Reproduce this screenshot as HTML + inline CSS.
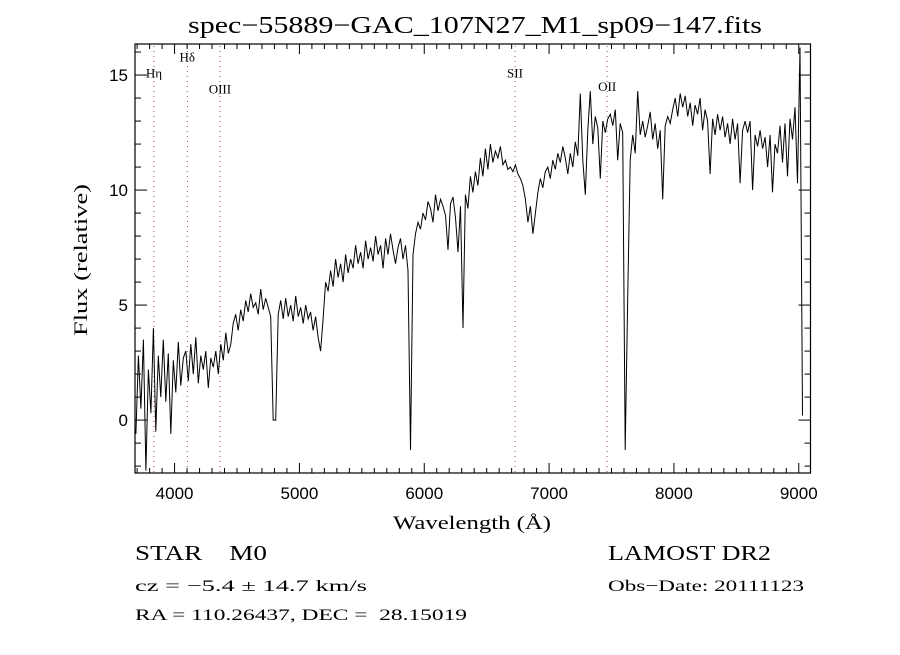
<!DOCTYPE html>
<html><head><meta charset="utf-8"><style>
html,body{margin:0;padding:0;background:#fff;}
svg text{font-family:"Liberation Serif",serif;fill:#000;}
</style></head><body>
<svg id="chart" width="900" height="650" xmlns="http://www.w3.org/2000/svg">
<rect x="0" y="0" width="900" height="650" fill="#fff"/>
<text x="475" y="33" font-size="24" text-anchor="middle" textLength="574" lengthAdjust="spacingAndGlyphs">spec−55889−GAC_107N27_M1_sp09−147.fits</text>
<g id="lines"></g>
<g id="ticks"></g>
<g id="series"></g>
<rect x="135" y="44" width="675.5" height="429" fill="none" stroke="#000" stroke-width="1.2"/>
<text x="472" y="529" font-size="19" text-anchor="middle" textLength="158" lengthAdjust="spacingAndGlyphs">Wavelength (Å)</text>
<text x="0" y="0" font-size="19" text-anchor="middle" transform="translate(87,260) rotate(-90)" textLength="152" lengthAdjust="spacingAndGlyphs">Flux (relative)</text>
<text x="135" y="560" font-size="21" textLength="132" lengthAdjust="spacingAndGlyphs">STAR&#160;&#160;&#160;&#160;M0</text>
<text x="608" y="560" font-size="21" textLength="163" lengthAdjust="spacingAndGlyphs">LAMOST DR2</text>
<text x="135" y="591" font-size="16" textLength="232" lengthAdjust="spacingAndGlyphs">cz = −5.4 ± 14.7 km/s</text>
<text x="608" y="591" font-size="16" textLength="196" lengthAdjust="spacingAndGlyphs">Obs−Date: 20111123</text>
<text x="135" y="620" font-size="16" textLength="332" lengthAdjust="spacingAndGlyphs">RA = 110.26437, DEC =&#160;&#160;28.15019</text>
</svg>
<script>
const W0 = 3690;
const DW = 20;
const flux = [
-0.6,2.8,0.5,3.5,-2.2, 2.2,0.3,4.0,-0.5,2.8, 1.0,3.5,0.8,2.9,-0.6,
2.6,1.2,3.4,1.5,2.7, 3.0,1.7,3.3,2.0,3.6, 1.6,2.8,2.2,3.0,1.4,
2.7,2.3,3.0,2.0,3.3, 2.6,3.8,2.9,3.3,4.2, 4.6,3.9,4.8,4.3,5.2,
4.7,5.5,4.9,5.1,4.6, 5.7,4.8,5.3,4.9,4.5, 0.0,0.0,4.6,5.2,4.4,
5.3,4.5,5.0,4.3,5.4, 4.5,4.9,4.2,5.0,4.4, 4.7,3.9,4.5,3.6,3.0,
4.4,6.0,5.6,6.5,5.8, 7.0,6.2,6.8,6.0,7.2, 6.4,7.0,6.6,7.6,6.8,
7.3,6.6,7.8,7.0,7.5, 6.9,8.0,7.2,7.6,6.6, 7.9,7.2,8.1,7.4,6.8,
7.5,7.9,7.0,7.6,6.5, -1.3,7.2,8.1,8.6,8.3, 9.0,8.7,9.5,9.2,8.6,
9.8,9.1,9.6,9.3,8.9, 7.4,9.4,9.7,8.8,7.3, 9.3,4.0,9.8,9.2,10.6,
9.9,10.8,10.2,11.4,10.6, 11.8,10.9,12.0,11.2,11.7, 11.4,11.9,11.1,11.3,10.9,
11.0,10.8,11.1,10.7,10.5, 10.2,9.6,8.6,9.3,8.1, 9.0,9.9,10.5,10.1,10.8,
11.0,10.5,11.3,10.9,11.6, 11.2,11.9,11.4,10.7,11.6, 11.0,12.1,11.5,14.2,11.3,
9.8,12.6,14.3,12.0,13.2, 12.7,10.5,13.0,12.5,13.1, 13.3,12.8,13.5,11.3,12.9,
12.5,-1.3,5.3,11.3,12.4, 11.6,14.3,12.4,13.0,12.3, 12.8,13.4,12.2,12.9,11.8,
12.6,9.6,12.8,13.2,12.9, 13.5,14.0,13.2,14.2,13.6, 14.1,13.2,13.8,12.8,13.7,
13.3,14.0,12.6,13.5,13.0, 10.7,13.1,12.4,13.3,12.6, 13.2,12.3,12.9,12.0,13.1,
12.2,12.9,10.3,12.6,13.0, 12.5,13.0,10.0,12.4,11.9, 12.6,11.8,12.3,11.0,12.4,
9.9,12.0,11.6,12.8,11.2, 12.9,10.6,13.1,12.2,13.6, 10.3,16.2,0.2
];
const lineNames = ["Hη","Hδ","OIII","SII","OII"];
const lineWaves = [3835,4102,4363,6727,7465];
const lineLabelFlux = [14.9,15.6,14.2,14.9,14.3];
const xTickLabels = [4000,5000,6000,7000,8000,9000];
const yTickLabels = [0,5,10,15];

const XMIN=3683, XMAX=9094, YMIN=-2.3, YMAX=16.35;
const L=135, R=810.5, T=44, B=473;
const sx = w => L + (w-XMIN)/(XMAX-XMIN)*(R-L);
const sy = f => B - (f-YMIN)/(YMAX-YMIN)*(B-T);
const NS="http://www.w3.org/2000/svg";
function mk(tag, attrs, parent){const e=document.createElementNS(NS,tag);for(const k in attrs)e.setAttribute(k,attrs[k]);parent.appendChild(e);return e;}

const lg=document.getElementById('lines');
lineWaves.forEach((w,i)=>{
  const l=mk('line',{x1:sx(w),x2:sx(w),y1:T+2,y2:B,stroke:'#a0503c','stroke-width':1,'stroke-dasharray':'1,4'},lg);
  
  
  const t=mk('text',{x:sx(w),y:sy(lineLabelFlux[i]),'font-size':13,'text-anchor':'middle'},lg);
  t.textContent=lineNames[i];
  
  
});

const tg=document.getElementById('ticks');
for(let w=3700;w<=XMAX;w+=100){
  const major=(w%1000===0), len=major?10:5;
  mk('line',{x1:sx(w),x2:sx(w),y1:B,y2:B-len,stroke:'#000','stroke-width':1},tg);
  mk('line',{x1:sx(w),x2:sx(w),y1:T,y2:T+len,stroke:'#000','stroke-width':1},tg);
}
xTickLabels.forEach(v=>{
  const t=mk('text',{x:sx(v),y:B+26,'font-size':17,'text-anchor':'middle',style:'font-family:"Liberation Sans",sans-serif'},tg);
  t.textContent=v;
  
  
});
for(let f=-2;f<=16;f+=1){
  const major=(f%5===0), len=major?12:6;
  mk('line',{x1:L,x2:L+len,y1:sy(f),y2:sy(f),stroke:'#000','stroke-width':1},tg);
  mk('line',{x1:R,x2:R-len,y1:sy(f),y2:sy(f),stroke:'#000','stroke-width':1},tg);
}
yTickLabels.forEach(v=>{
  const t=mk('text',{x:L-7,y:sy(v)+6,'font-size':17,'text-anchor':'end',style:'font-family:"Liberation Sans",sans-serif'},tg);
  t.textContent=v;
  
  
});

const sg=document.getElementById('series');
let d='';
flux.forEach((f,i)=>{const w=W0+i*DW;d+=(i?'L':'M')+sx(w).toFixed(1)+','+Math.max(T,sy(f)).toFixed(1);});
const p=mk('path',{d:d,fill:'none',stroke:'#000','stroke-width':1,'stroke-linejoin':'miter'},sg);


</script>
</body></html>
